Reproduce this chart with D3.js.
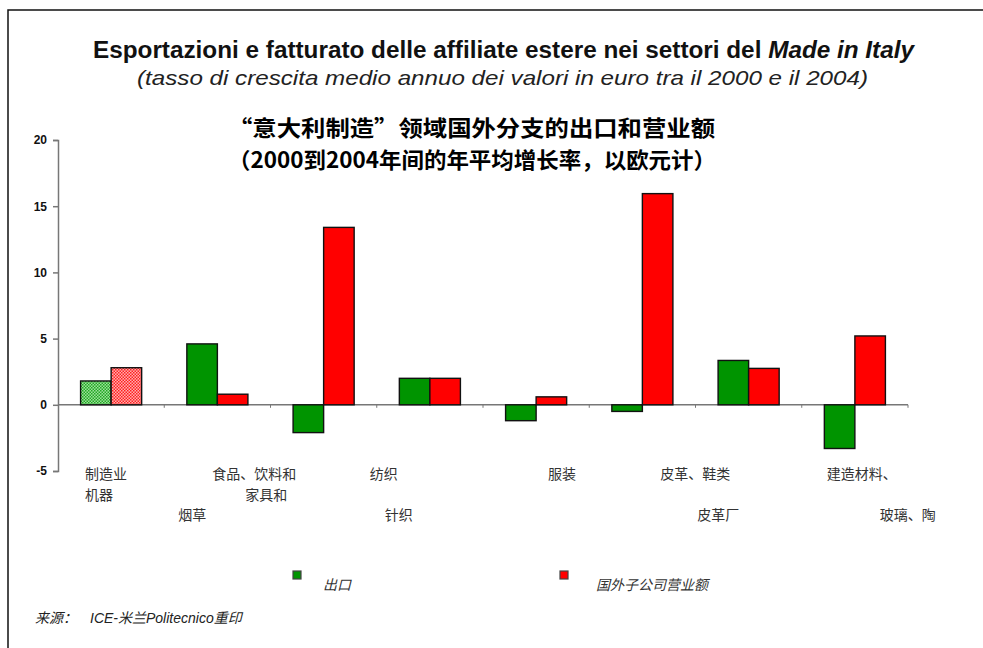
<!DOCTYPE html>
<html>
<head>
<meta charset="utf-8">
<script src="https://cdn.jsdelivr.net/npm/d3@7"></script>
<style>
  body { margin: 0; background: #fff; }
  svg { display: block; }
  .cat-label { font-family: "Noto Sans CJK SC", sans-serif; font-size: 14px; fill: #333; }
  .tick-label { font-family: "Liberation Sans", Arial, sans-serif; font-size: 12px; font-weight: bold; fill: #111; }
</style>
</head>
<body>
<div id="chart"></div>
<script>
// =====================================
// DATA
// =====================================

const categories = ["c1", "c2", "c3", "c4", "c5", "c6", "c7", "c8"];
const series = ["出口", "国外子公司营业额"];
const exportsValues = [1.8, 4.6, -2.1, 2.0, -1.2, -0.5, 3.35, -3.3];
const turnoverValues = [2.8, 0.8, 13.4, 2.0, 0.6, 15.95, 2.75, 5.2];
const yTicks = [-5, 0, 5, 10, 15, 20];

// category label fragments as printed under the axis: [text, category, line]
const labelTexts = ["制造业", "机器", "食品、饮料和", "家具和", "烟草", "纺织", "针织",
  "服装", "皮革、鞋类", "皮革厂", "建造材料、", "玻璃、陶"];
const labelCats = [0, 0, 1, 1, 1, 3, 3, 4, 5, 5, 7, 7];
const labelLines = [0, 1, 0, 1, 2, 0, 2, 0, 0, 2, 0, 2];

const titleIt = "Esportazioni e fatturato delle affiliate estere nei settori del ";
const titleItEm = "Made in Italy";
const subtitleIt = "(tasso di crescita medio annuo dei valori in euro tra il 2000 e il 2004)";
const titleZh = "“意大利制造”领域国外分支的出口和营业额";
const subtitleZh = "（2000到2004年间的年平均增长率，以欧元计）";

// =====================================
// SVG
// =====================================

const W = 983, H = 648;
const svg = d3.select("#chart").append("svg")
  .attr("width", W).attr("height", H);

svg.append("rect").attr("width", W).attr("height", H).attr("fill", "#fff");

// frame (top + left edges visible)
svg.append("path")
  .attr("d", `M8,${H} V10 H${W}`)
  .attr("fill", "none").attr("stroke", "#111").attr("stroke-width", 1.5);

// patterns for the first category
const defs = svg.append("defs");
function checker(id, bg, fg) {
  const p = defs.append("pattern").attr("id", id)
    .attr("patternUnits", "userSpaceOnUse").attr("width", 3).attr("height", 3);
  p.append("rect").attr("width", 3).attr("height", 3).attr("fill", bg);
  p.append("rect").attr("width", 1.5).attr("height", 1.5).attr("fill", fg);
  p.append("rect").attr("x", 1.5).attr("y", 1.5).attr("width", 1.5).attr("height", 1.5).attr("fill", fg);
}
checker("patG", "#9de09d", "#22a822");
checker("patR", "#ffb0b0", "#ff2020");

// =====================================
// TITLES
// =====================================

const t1 = svg.append("text")
  .attr("x", 93).attr("y", 58)
  .attr("textLength", 821).attr("lengthAdjust", "spacingAndGlyphs")
  .style("font-family", "'Liberation Sans', Arial, sans-serif")
  .style("font-size", "23px").style("font-weight", "bold").style("fill", "#111");
t1.append("tspan").text(titleIt);
t1.append("tspan").style("font-style", "italic").text(titleItEm);

svg.append("text")
  .attr("x", 137).attr("y", 85)
  .attr("textLength", 731).attr("lengthAdjust", "spacingAndGlyphs")
  .style("font-family", "'Liberation Sans', Arial, sans-serif")
  .style("font-size", "21px").style("font-style", "italic").style("fill", "#222")
  .text(subtitleIt);

svg.append("text")
  .attr("x", 228).attr("y", 136)
  .attr("textLength", 487).attr("lengthAdjust", "spacingAndGlyphs")
  .style("font-family", "'Noto Sans CJK SC', sans-serif")
  .style("font-size", "22px").style("font-weight", "bold").style("fill", "#000")
  .text(titleZh);

svg.append("text")
  .attr("x", 228).attr("y", 168)
  .attr("textLength", 488).attr("lengthAdjust", "spacingAndGlyphs")
  .style("font-family", "'Noto Sans CJK SC', sans-serif")
  .style("font-size", "22px").style("font-weight", "bold").style("fill", "#000")
  .text(subtitleZh);

// =====================================
// SCALES
// =====================================

const x0 = d3.scaleBand().domain(categories).range([58, 908]).padding(0);
const x1 = d3.scaleBand().domain(series).range([0, x0.bandwidth()])
  .paddingInner(0).paddingOuter(0.74);
const y = d3.scaleLinear().domain([-5, 20]).range([471, 140]);

// =====================================
// AXES
// =====================================

const axisColor = "#777";

const yAxis = svg.append("g")
  .attr("transform", "translate(58,0)")
  .call(d3.axisLeft(y).tickValues(yTicks).tickSize(5).tickPadding(6).tickFormat(d => String(d)));
yAxis.select(".domain").attr("stroke", axisColor).attr("stroke-width", 1.5);
yAxis.selectAll(".tick line").attr("stroke", axisColor).attr("stroke-width", 1.5);
yAxis.selectAll(".tick text").attr("class", "tick-label").attr("fill", null);

// x axis at zero with small ticks at category boundaries
const xg = svg.append("g");
xg.append("line")
  .attr("x1", 58).attr("x2", 908)
  .attr("y1", y(0)).attr("y2", y(0))
  .attr("stroke", axisColor).attr("stroke-width", 1.5);
xg.selectAll(".xt")
  .data(categories)
  .enter().append("line")
  .attr("x1", d => x0(d) + x0.bandwidth()).attr("x2", d => x0(d) + x0.bandwidth())
  .attr("y1", y(0)).attr("y2", y(0) + 3)
  .attr("stroke", axisColor).attr("stroke-width", 1);

// =====================================
// BARS
// =====================================

const rows = categories.map((c, i) => ({
  cat: c, i,
  vals: [exportsValues[i], turnoverValues[i]]
}));

const barFill = (i, s) => i === 0 ? (s === 0 ? "url(#patG)" : "url(#patR)") : (s === 0 ? "#009400" : "#ff0000");

const groups = svg.selectAll(".grp")
  .data(rows).enter().append("g")
  .attr("transform", d => `translate(${x0(d.cat)},0)`);

groups.selectAll("rect")
  .data(d => d.vals.map((v, s) => ({ v, s, i: d.i })))
  .enter().append("rect")
  .attr("x", d => x1(series[d.s]))
  .attr("width", x1.bandwidth())
  .attr("y", d => y(Math.max(0, d.v)))
  .attr("height", d => Math.abs(y(d.v) - y(0)))
  .attr("fill", d => barFill(d.i, d.s))
  .attr("stroke", "#111").attr("stroke-width", 1.4);

// =====================================
// CATEGORY LABELS
// =====================================

const labelDx = [27, 27, 48, 81, 14, -7, 8, 65, 71, 108, 25, 78];
const lineY = [479, 500, 520];

svg.selectAll(".cat-label")
  .data(labelTexts)
  .enter().append("text")
  .attr("class", "cat-label")
  .attr("x", (d, i) => x0(categories[labelCats[i]]) + labelDx[i])
  .attr("y", (d, i) => lineY[labelLines[i]])
  .text(d => d);

// =====================================
// LEGEND
// =====================================

const legendX = [293, 560];
const legendTextX = [323, 596];
const legendFill = ["#009400", "#ff0000"];

series.forEach((s, i) => {
  svg.append("rect")
    .attr("x", legendX[i]).attr("y", 571)
    .attr("width", 8).attr("height", 8)
    .attr("fill", legendFill[i])
    .attr("stroke", "#444").attr("stroke-width", 1.2);
  svg.append("text")
    .attr("x", legendTextX[i]).attr("y", 590)
    .style("font-family", "'Noto Sans CJK SC', sans-serif")
    .style("font-size", "14px").style("font-style", "italic").style("fill", "#333")
    .text(s);
});

// =====================================
// SOURCE
// =====================================

const src = svg.append("text")
  .attr("x", 35).attr("y", 623)
  .style("font-size", "14px").style("font-style", "italic").style("fill", "#222");
src.append("tspan").style("font-family", "'Noto Sans CJK SC', sans-serif").text("来源：");
src.append("tspan").attr("x", 90).style("font-family", "'Liberation Sans', Arial, sans-serif").text("ICE-");
src.append("tspan").style("font-family", "'Noto Sans CJK SC', sans-serif").text("米兰");
src.append("tspan").style("font-family", "'Liberation Sans', Arial, sans-serif").text("Politecnico");
src.append("tspan").style("font-family", "'Noto Sans CJK SC', sans-serif").text("重印");
</script>
</body>
</html>
